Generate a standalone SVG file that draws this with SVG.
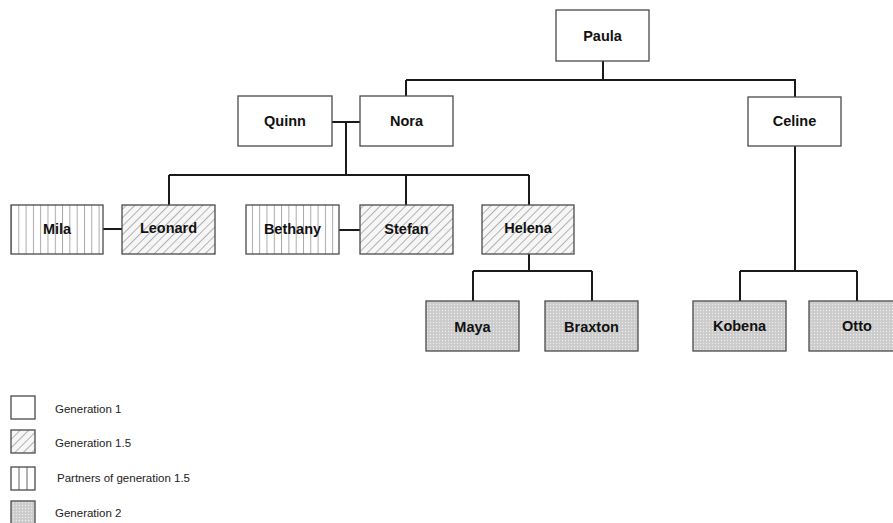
<svg xmlns="http://www.w3.org/2000/svg" width="893" height="523" viewBox="0 0 893 523">
<defs>
<pattern id="hatch" width="6" height="6" patternUnits="userSpaceOnUse" patternTransform="rotate(45)">
<rect width="6" height="6" fill="#f6f6f6"/>
<line x1="0.5" y1="0" x2="0.5" y2="6" stroke="#a0a0a0" stroke-width="0.8"/>
</pattern>
<pattern id="vert" width="7.3" height="10" patternUnits="userSpaceOnUse" x="11">
<rect width="7.3" height="10" fill="#ffffff"/>
<line x1="0.5" y1="0" x2="0.5" y2="10" stroke="#909090" stroke-width="0.8"/>
</pattern>
<pattern id="dots" width="3" height="3" patternUnits="userSpaceOnUse">
<rect width="3" height="3" fill="#cbcbcb"/>
<circle cx="1.5" cy="1.5" r="0.7" fill="#ececec"/>
</pattern>
</defs>
<style>
.box{stroke:#4a4a4a;stroke-width:1.3}
.g1{fill:#ffffff}
.g15{fill:url(#hatch)}
.pt{fill:url(#vert)}
.g2{fill:url(#dots)}
.lbl{font-family:"Liberation Sans",Arial,sans-serif;font-weight:bold;font-size:14.5px;fill:#111;text-anchor:middle}
.leg{font-family:"Liberation Sans",Arial,sans-serif;font-size:11.5px;fill:#222}
.con{stroke:#1a1a1a;stroke-width:2;fill:none}
</style>
<rect width="893" height="523" fill="#ffffff"/>
<g id="connectors">
<path class="con" d="M603 61V80M406 80H795V97M406 80V96"/>
<path class="con" d="M332 122H360M346 122V175M169 175H529M169 175V205M406 175V205M529 175V205"/>
<path class="con" d="M103 229H122M339 230H360"/>
<path class="con" d="M529 254V271M473 271H592M473 271V301M592 271V301"/>
<path class="con" d="M795 146V271M740 271H857M740 271V301M857 271V301"/>
</g>
<g id="paula"><rect class="box g1" x="556" y="10" width="93" height="51"/><text class="lbl" x="602.5" y="41">Paula</text></g>
<g id="quinn"><rect class="box g1" x="238" y="96" width="94" height="50"/><text class="lbl" x="285" y="126">Quinn</text></g>
<g id="nora"><rect class="box g1" x="360" y="96" width="93" height="50"/><text class="lbl" x="406.5" y="126">Nora</text></g>
<g id="celine"><rect class="box g1" x="748" y="97" width="93" height="49"/><text class="lbl" x="794.5" y="126">Celine</text></g>
<g id="mila"><rect class="box pt" x="11" y="205" width="92" height="49"/><text class="lbl" x="57" y="234">Mila</text></g>
<g id="leonard"><rect class="box g15" x="122" y="205" width="93" height="49"/><text class="lbl" x="168.5" y="233">Leonard</text></g>
<g id="bethany"><rect class="box pt" x="246" y="205" width="93" height="49"/><text class="lbl" x="292.5" y="234">Bethany</text></g>
<g id="stefan"><rect class="box g15" x="360" y="205" width="93" height="49"/><text class="lbl" x="406.5" y="234">Stefan</text></g>
<g id="helena"><rect class="box g15" x="482" y="205" width="92" height="49"/><text class="lbl" x="528" y="233">Helena</text></g>
<g id="maya"><rect class="box g2" x="426" y="301" width="93" height="50"/><text class="lbl" x="472.5" y="332">Maya</text></g>
<g id="braxton"><rect class="box g2" x="545" y="301" width="93" height="50"/><text class="lbl" x="591.5" y="332">Braxton</text></g>
<g id="kobena"><rect class="box g2" x="693" y="301" width="93" height="50"/><text class="lbl" x="739.5" y="331">Kobena</text></g>
<g id="otto"><rect class="box g2" x="809" y="301" width="95" height="50"/><text class="lbl" x="857" y="331">Otto</text></g>
<g id="legend">
<rect class="box g1" x="11" y="396" width="24" height="23"/>
<text class="leg" x="55" y="413">Generation 1</text>
<rect class="box g15" x="11" y="430" width="24" height="23"/>
<text class="leg" x="55" y="447">Generation 1.5</text>
<rect class="box g1" x="11" y="467" width="24" height="23"/>
<line x1="19" y1="467" x2="19" y2="490" stroke="#555" stroke-width="0.9"/>
<line x1="27" y1="467" x2="27" y2="490" stroke="#555" stroke-width="0.9"/>
<text class="leg" x="57" y="482">Partners of generation 1.5</text>
<rect class="box g2" x="11" y="501" width="24" height="23"/>
<text class="leg" x="55" y="517">Generation 2</text>
</g>
</svg>
